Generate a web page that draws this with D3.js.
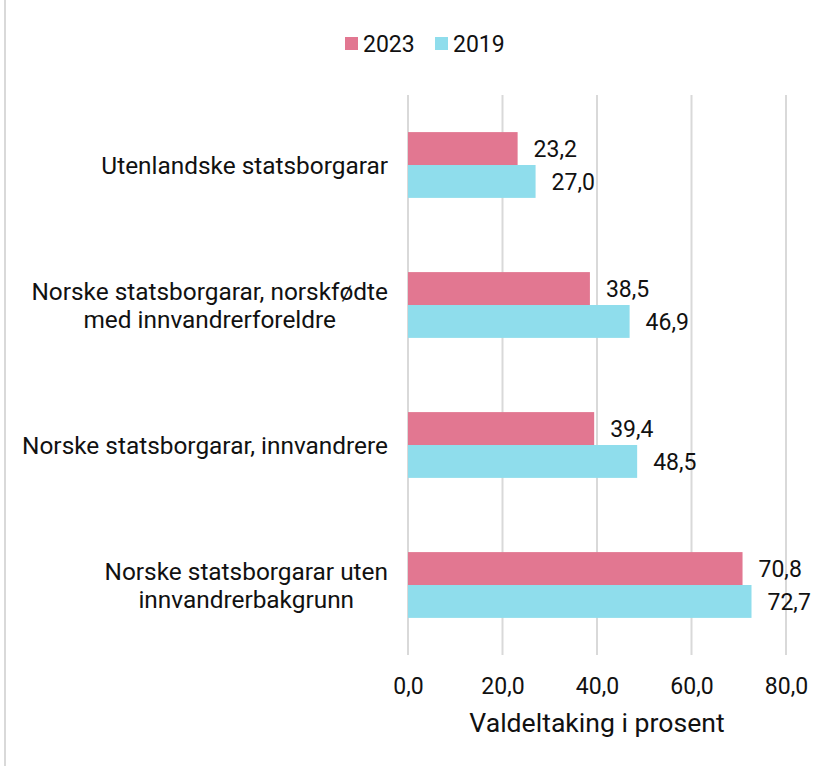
<!DOCTYPE html>
<html>
<head>
<meta charset="utf-8">
<script src="https://cdn.jsdelivr.net/npm/d3@7"></script>
<style>
  body { margin: 0; background: #fff; }
  svg text { font-family: Roboto, "Noto Sans", sans-serif; fill: #111; }
</style>
</head>
<body>
<svg id="chart"></svg>
<script>
// kategoriar, frå topp til botn
var categories = [
  ["Utenlandske statsborgarar"],
  ["Norske statsborgarar, norskfødte", "med innvandrerforeldre"],
  ["Norske statsborgarar, innvandrere"],
  ["Norske statsborgarar uten", "innvandrerbakgrunn"]
];
var series = ["2023", "2019"];
var values2023 = [23.2, 38.5, 39.4, 70.8];
var values2019 = [27.0, 46.9, 48.5, 72.7];
var ticks = [0, 20, 40, 60, 80];

var colors = {"2023": "#E27791", "2019": "#8FDDEC"};

var width = 837, height = 766;
var margin = {top: 95, right: 51, bottom: 111, left: 408};

var svg = d3.select("#chart")
  .attr("width", width)
  .attr("height", height);

// venstre kantlinje
svg.append("line")
  .attr("x1", 5).attr("x2", 5)
  .attr("y1", 0).attr("y2", height)
  .attr("stroke", "#d9d9d9")
  .attr("stroke-width", 2);

var x = d3.scaleLinear()
  .domain([0, 80])
  .range([margin.left, margin.left + 4.725 * 80]);

var y = d3.scaleBand()
  .domain(d3.range(categories.length))
  .range([margin.top, height - margin.bottom])
  .paddingInner(0.53)
  .paddingOuter(0.265);

var ySub = d3.scaleBand()
  .domain(series)
  .range([0, y.bandwidth()]);

var fmt = v => d3.format(".1f")(v).replace(".", ",");

// rutenett
svg.append("g")
  .selectAll("line")
  .data(ticks)
  .enter().append("line")
  .attr("x1", d => x(d)).attr("x2", d => x(d))
  .attr("y1", margin.top).attr("y2", height - margin.bottom)
  .attr("stroke", "#d9d9d9")
  .attr("stroke-width", 2);

var rows = categories.map((c, i) => ({i: i, label: c, "2023": values2023[i], "2019": values2019[i]}));

var groups = svg.append("g")
  .selectAll("g")
  .data(rows)
  .enter().append("g")
  .attr("transform", d => "translate(0," + y(d.i) + ")");

series.forEach(function (s) {
  groups.append("rect")
    .attr("x", x(0))
    .attr("y", ySub(s))
    .attr("width", d => x(d[s]) - x(0))
    .attr("height", ySub.bandwidth())
    .attr("fill", colors[s]);

  groups.append("text")
    .attr("x", d => x(d[s]) + 16)
    .attr("y", ySub(s) + ySub.bandwidth() / 2)
    .attr("dy", "0.36em")
    .style("font-size", "23px")
    .text(d => fmt(d[s]));
});

// kategori-etikettar: blokka høgrejustert, linjene sentrert
var labelRight = 388, lineH = 28;
groups.append("text")
  .attr("text-anchor", "middle")
  .style("font-size", "24.4px")
  .each(function (d) {
    var t = d3.select(this);
    var n = d.label.length;
    var spans = d.label.map(function (line, k) {
      return t.append("tspan")
        .attr("y", y.bandwidth() / 2 + (k - (n - 1) / 2) * lineH)
        .attr("dy", "0.36em")
        .text(line);
    });
    var maxW = d3.max(spans, sp => sp.node().getComputedTextLength());
    spans.forEach(sp => sp.attr("x", labelRight - maxW / 2));
  });

// x-akse
var xAxis = svg.append("g")
  .attr("transform", "translate(0," + (height - margin.bottom) + ")")
  .call(d3.axisBottom(x).tickValues(ticks).tickSize(0).tickPadding(23).tickFormat(fmt));
xAxis.select(".domain").remove();
xAxis.selectAll("text")
  .style("font-size", "23px")
  .style("font-family", "Roboto, sans-serif")
  .attr("fill", "#111");

svg.append("text")
  .attr("x", (x(0) + x(80)) / 2)
  .attr("y", 732)
  .attr("text-anchor", "middle")
  .style("font-size", "26.6px")
  .text("Valdeltaking i prosent");

// forklaring
var legend = svg.append("g");
var lx = 345;
series.forEach(function (s, i) {
  var g = legend.append("g").attr("transform", "translate(" + (lx + i * 90) + ",37)");
  g.append("rect").attr("width", 13).attr("height", 13).attr("fill", colors[s]);
  g.append("text")
    .attr("x", 18)
    .attr("y", 7)
    .attr("dy", "0.36em")
    .style("font-size", "23px")
    .text(s);
});
</script>
</body>
</html>
